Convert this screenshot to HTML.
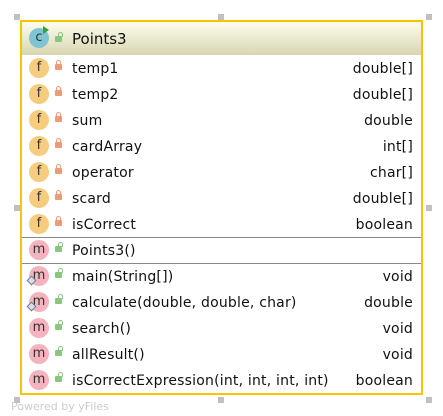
<!DOCTYPE html>
<html><head><style>
body{margin:0;width:443px;height:416px;background:#fff;position:relative;font-family:"DejaVu Sans","Liberation Sans",sans-serif;overflow:hidden}
.box{position:absolute;left:20px;top:20px;width:399px;height:371px;border:2px solid #f8c400;}
.hdr{position:absolute;left:0;top:0;width:399px;height:33px;background:linear-gradient(#fdfdee,#d8d6b0);}
.row{position:absolute;left:0;width:399px;height:26px;font-size:14px;color:#111;letter-spacing:0.2px}
.row .n{position:absolute;left:50px;top:6px}
.row .t{position:absolute;right:8px;top:6px}
.ic{position:absolute;left:7px;top:3px;width:20px;height:20px;border-radius:50%;font-size:13px;text-align:center;line-height:19px;color:#333}
.f{background:#f6cd7e}.m{background:#f5b3bd}
.lk{position:absolute;left:33px;top:9px;width:7px;height:6px;border-radius:1px}
.lk.r{background:#ee9a74}.lk.g{background:#88c87e}
.lk:before{content:"";position:absolute;left:1px;top:-4px;width:3px;height:4px;border:1px solid;border-bottom:none;border-radius:3px 3px 0 0}
.lk.r:before{border-color:#ee9a74}.lk.g:before{border-color:#88c87e;left:3px}
.sep{position:absolute;left:0;width:399px;height:1px;background:#888}
.dm{position:absolute;left:6px;top:14px;width:5px;height:5px;border:1.5px solid #6a7f90;transform:rotate(45deg);background:#dde}
.sq{position:absolute;width:6px;height:6px;background:#c0c0c0}
</style></head><body>
<div class="sq" style="left:14px;top:14px"></div>
<div class="sq" style="left:426px;top:14px"></div>
<div class="sq" style="left:426px;top:397px"></div>
<div class="sq" style="left:14px;top:397px"></div>
<div class="sq" style="left:218px;top:14px"></div>
<div class="sq" style="left:14px;top:205px"></div>
<div class="sq" style="left:426px;top:205px"></div>
<div class="sq" style="left:218px;top:397px"></div>
<div class="box">
<div class="hdr">
<div style="position:absolute;left:7px;top:6px;width:20px;height:20px;border-radius:50%;background:#7fc4d4;font-size:13px;text-align:center;line-height:20px;color:#333">c</div>
<div style="position:absolute;left:21px;top:4px;width:0;height:0;border-left:6px solid #3a9c3a;border-top:4px solid transparent;border-bottom:4px solid transparent"></div>
<div class="lk g" style="top:14px"></div>
<div style="position:absolute;left:50px;top:8px;font-size:15px;color:#111">Points3</div>
</div>
<div class="row" style="top:33px"><div class="ic f">f</div><div class="lk r"></div><span class="n">temp1</span><span class="t">double[]</span></div>
<div class="row" style="top:59px"><div class="ic f">f</div><div class="lk r"></div><span class="n">temp2</span><span class="t">double[]</span></div>
<div class="row" style="top:85px"><div class="ic f">f</div><div class="lk r"></div><span class="n">sum</span><span class="t">double</span></div>
<div class="row" style="top:111px"><div class="ic f">f</div><div class="lk r"></div><span class="n">cardArray</span><span class="t">int[]</span></div>
<div class="row" style="top:137px"><div class="ic f">f</div><div class="lk r"></div><span class="n">operator</span><span class="t">char[]</span></div>
<div class="row" style="top:163px"><div class="ic f">f</div><div class="lk r"></div><span class="n">scard</span><span class="t">double[]</span></div>
<div class="row" style="top:189px"><div class="ic f">f</div><div class="lk r"></div><span class="n">isCorrect</span><span class="t">boolean</span></div>
<div class="sep" style="top:215px"></div>
<div class="row" style="top:215px"><div class="ic m">m</div><div class="lk g"></div><span class="n">Points3()</span></div>
<div class="sep" style="top:241px"></div>
<div class="row" style="top:241px"><div class="ic m">m</div><div class="dm"></div><div class="lk g"></div><span class="n">main(String[])</span><span class="t">void</span></div>
<div class="row" style="top:267px"><div class="ic m">m</div><div class="dm"></div><div class="lk g"></div><span class="n">calculate(double, double, char)</span><span class="t">double</span></div>
<div class="row" style="top:293px"><div class="ic m">m</div><div class="lk g"></div><span class="n">search()</span><span class="t">void</span></div>
<div class="row" style="top:319px"><div class="ic m">m</div><div class="lk g"></div><span class="n">allResult()</span><span class="t">void</span></div>
<div class="row" style="top:345px"><div class="ic m">m</div><div class="lk g"></div><span class="n">isCorrectExpression(int, int, int, int)</span><span class="t">boolean</span></div>
</div>
<div style="position:absolute;left:11px;top:400px;font-size:11px;color:#ccc">Powered by yFiles</div>
</body></html>
